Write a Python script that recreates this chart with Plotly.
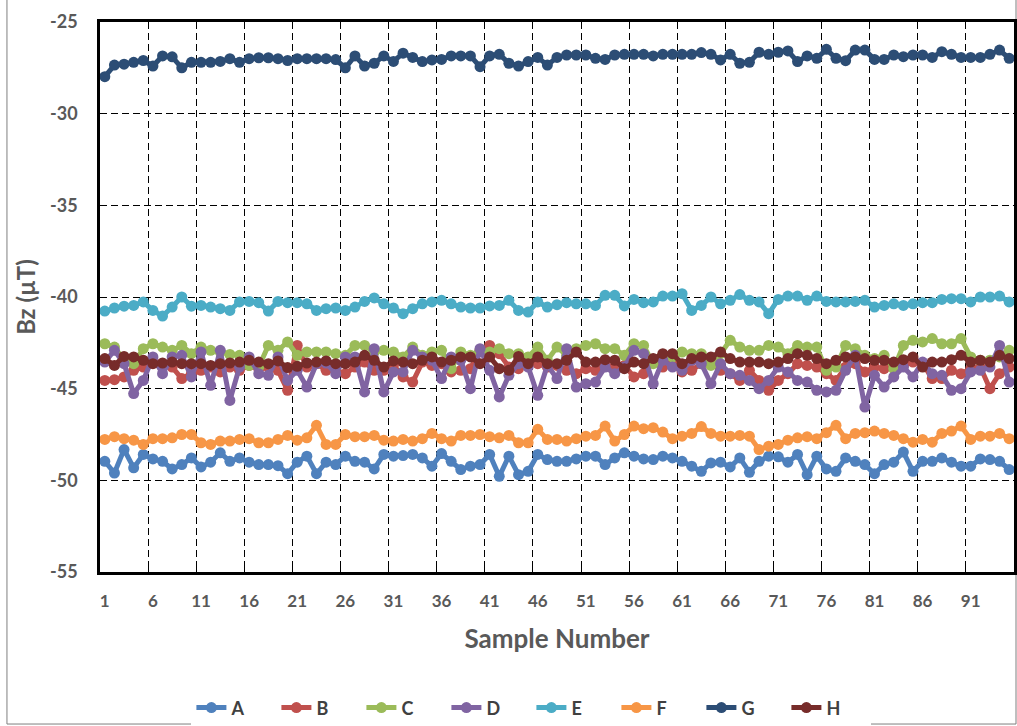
import plotly.graph_objects as go

samples = list(range(1, 96))
series_names = ["A", "B", "C", "D", "E", "F", "G", "H"]
colors = ["#4F81BD", "#C0504D", "#9BBB59", "#8064A2", "#4BACC6", "#F79646", "#2C4D75", "#772C2A"]

A = [-48.96, -49.6, -48.32, -49.32, -48.59, -48.83, -48.96, -49.38, -49.14, -48.78, -49.27, -49.01, -48.5, -48.96, -48.78, -49.01,
     -49.14, -49.14, -49.2, -49.64, -49.01, -48.68, -49.64, -49.01, -49.14, -48.68, -48.96, -49.01, -49.38, -48.59, -48.68, -48.65,
     -48.59, -48.78, -49.23, -48.54, -48.96, -49.41, -49.23, -49.14, -48.59, -49.78, -48.68, -49.69, -49.51, -48.59, -48.87, -48.96,
     -48.96, -48.83, -48.68, -48.68, -49.14, -48.78, -48.5, -48.68, -48.83, -48.87, -48.68, -48.78, -48.96, -49.23, -49.51, -49.05,
     -49.01, -49.27, -48.78, -49.56, -48.96, -48.68, -48.72, -49.01, -48.59, -49.69, -48.68, -49.38, -49.51, -48.78, -48.96, -49.14,
     -49.64, -49.14, -49.01, -48.46, -49.51, -48.96, -48.96, -48.78, -49.01, -49.23, -49.23, -48.83, -48.87, -48.96, -49.41]
B = [-44.55, -44.51, -44.36, -44.0, -43.82, -43.55, -43.73, -43.82, -44.45, -44.18, -44.0, -43.82, -44.09, -43.82, -44.0, -43.73,
     -43.91, -43.82, -44.0, -45.09, -42.64, -43.82, -43.64,
     -44.0, -44.0, -44.18, -43.82, -43.55, -44.0, -44.0, -43.73, -44.36, -44.64, -43.55, -43.73, -43.64, -44.09, -44.0, -43.91,
     -42.91, -42.64, -43.09, -43.82, -43.91, -43.55, -43.64, -43.82, -43.73,
     -44.0, -44.18, -43.91, -44.0, -43.73, -43.82, -43.73, -44.36, -44.18, -43.55, -43.82, -43.64, -44.09, -44.0, -43.64, -43.55,
     -44.0, -44.18, -44.55, -44.0, -44.55, -45.09, -44.55,
     -44.18, -43.64, -43.73, -43.82, -44.18, -44.55, -43.82, -43.64, -44.09, -43.82, -43.91, -43.64, -43.73, -43.55, -43.64, -44.45,
     -44.45, -44.0, -44.18, -43.91, -43.82, -45.0, -44.18, -43.82]
C = [-42.55, -42.73, -43.45, -43.64, -42.82, -42.55, -42.73, -42.91, -42.64, -43.09, -42.73, -42.91, -43.0, -43.13, -43.18, -43.73,
     -43.82, -42.64, -42.91, -42.45, -43.18, -43.0, -43.0,
     -43.0, -43.09, -43.18, -42.64, -42.64, -43.0, -42.91, -43.0, -43.27, -42.73, -43.18, -43.0, -42.91, -43.91, -43.0, -43.18,
     -42.91, -43.0, -42.82, -43.09, -43.09, -43.27, -42.73, -43.45,
     -42.73, -43.18, -42.82, -42.64, -42.55, -42.82, -42.82, -43.18, -42.55, -42.64, -43.64, -43.18, -43.27, -43.0, -43.09, -43.09,
     -43.73, -43.09, -42.36, -42.73, -42.91, -42.91, -42.64, -42.73,
     -43.09, -42.64, -42.73, -42.73, -44.0, -43.82, -42.64, -42.82, -43.18, -43.36, -43.18, -43.91, -42.64, -42.36, -42.45, -42.27,
     -42.55, -42.55, -42.27, -43.27, -43.45, -43.45, -43.27, -42.91]
D = [-43.55, -42.91, -43.64, -45.27, -44.55, -43.27, -44.18, -43.27, -43.18, -44.36, -43.0, -44.82, -42.91, -45.64, -43.82, -43.27,
     -44.18, -44.27, -43.27, -44.55, -44.0, -44.91, -43.64,
     -43.6, -44.18, -43.27, -43.27, -45.18, -42.82, -45.18, -44.09, -44.09, -42.91, -43.27, -43.45, -44.45, -43.27, -43.45, -45.0,
     -42.82, -44.0, -45.45, -44.27, -43.64, -43.82, -45.36, -43.73,
     -44.45, -42.82, -44.91, -44.73, -44.64, -43.82, -44.18, -43.82, -42.91, -43.09, -44.73, -43.45, -43.82, -44.0, -43.45, -43.64,
     -44.73, -43.64, -44.18, -44.27, -44.55, -45.0, -44.55, -43.82,
     -44.09, -44.55, -44.64, -45.09, -45.18, -45.09, -44.0, -43.18, -46.0, -44.27, -44.91, -44.36, -43.82, -44.36, -43.55, -44.18,
     -44.27, -45.09, -45.0, -44.09, -44.0, -43.82, -42.64, -44.64]
E = [-40.77, -40.6, -40.5, -40.46, -40.27, -40.73, -41.04, -40.55, -40.0, -40.5, -40.46, -40.55, -40.64, -40.73, -40.27, -40.24,
     -40.31, -40.77, -40.24, -40.31, -40.31, -40.37, -40.73, -40.64, -40.6, -40.73, -40.55, -40.24, -40.05, -40.37, -40.6, -40.91,
     -40.64, -40.37, -40.27, -40.18, -40.37, -40.55, -40.6, -40.6, -40.49, -40.46, -40.18, -40.73, -40.82, -40.27, -40.55, -40.42,
     -40.31, -40.37, -40.37, -40.46, -39.91, -39.91, -40.49, -40.13, -40.31, -40.27, -39.95, -39.95, -39.82, -40.73, -40.46, -40.0,
     -40.37, -40.18, -39.87, -40.18, -40.27, -40.91, -40.13, -39.95, -39.95, -40.18, -39.95, -40.24, -40.27, -40.27, -40.24, -40.18,
     -40.55, -40.46, -40.37, -40.46, -40.37, -40.31, -40.31, -40.13, -40.09, -40.09, -40.27, -40.0, -40.0, -39.95, -40.27]
F = [-47.77, -47.62, -47.73, -47.81, -48.04, -47.73, -47.73, -47.68, -47.5, -47.5, -47.95, -48.04, -47.86, -47.86, -47.77, -47.73,
     -47.95, -47.95, -47.77, -47.55, -47.81, -47.68, -47.0, -48.04, -48.04, -47.5, -47.62, -47.62, -47.55, -47.81, -47.86, -47.77,
     -47.86, -47.73, -47.44, -47.73, -47.86, -47.55, -47.55, -47.5, -47.62, -47.68, -47.55, -47.95, -47.95, -47.22, -47.77, -47.77,
     -47.86, -47.73, -47.59, -47.55, -47.04, -47.86, -47.5, -47.04, -47.18, -47.13, -47.37, -47.73, -47.59, -47.44, -47.07, -47.44,
     -47.59, -47.59, -47.55, -47.59, -48.32, -48.14, -48.04, -47.81, -47.68, -47.62, -47.73, -47.4, -47.0, -47.73, -47.44, -47.4,
     -47.31, -47.44, -47.55, -47.73, -47.92, -47.77, -47.92, -47.44, -47.31, -47.04, -47.77, -47.59, -47.59, -47.44, -47.73]
G = [-27.98, -27.35, -27.3, -27.2, -27.1, -27.4, -26.85, -26.9, -27.5, -27.2, -27.2, -27.2, -27.15, -27.0, -27.2, -27.0,
     -26.95, -26.95, -27.0, -27.1, -27.0, -27.0, -27.0, -27.0, -27.05, -27.5, -26.85, -27.4, -27.25, -26.85, -27.15, -26.7,
     -26.93, -27.16, -27.07, -27.04, -26.85, -26.85, -26.85, -27.44, -26.85, -26.76, -27.25, -27.4, -27.16, -26.93, -27.35, -26.93,
     -26.8, -26.8, -26.8, -26.98, -27.04, -26.8, -26.76, -26.76, -26.76, -26.85, -26.76, -26.76, -26.76, -26.76, -26.67, -26.76,
     -27.07, -26.76, -27.25, -27.2, -26.65, -26.76, -26.65, -26.58, -27.16, -26.85, -26.98, -26.49, -26.98, -27.11, -26.53, -26.53,
     -27.04, -27.04, -26.8, -26.89, -26.8, -26.8, -26.93, -26.62, -26.76, -26.93, -26.93, -26.93, -26.76, -26.53, -26.98]
H = [-43.36, -43.73, -43.24, -43.27, -43.45, -43.64, -43.6, -43.55, -43.64, -43.64, -43.64, -43.73, -43.64, -43.6, -43.55, -43.45,
     -43.55, -43.64, -43.49, -43.85, -43.78, -43.6, -43.55, -43.49,
     -43.64, -43.64, -43.55, -43.18, -43.45, -43.82, -43.49, -43.55, -43.64, -43.45, -43.27, -43.55, -43.45, -43.27, -43.27, -43.64,
     -43.27, -43.91, -44.0, -43.24, -43.64, -43.27, -43.64,
     -43.64, -43.45, -43.0, -43.55, -43.55, -43.42, -43.45, -43.91, -43.55, -43.64, -43.36, -43.09, -43.09, -43.64, -43.36, -43.27,
     -43.27, -43.0, -43.36, -43.55, -43.55, -43.55, -43.64, -43.55,
     -43.36, -43.09, -43.18, -43.36, -43.64, -43.45, -43.27, -43.27, -43.36, -43.45, -43.45, -43.55, -43.42, -43.27, -43.82, -43.55,
     -43.55, -43.42, -43.18, -43.55, -43.45, -43.55, -43.18, -43.36]

x_tick_vals = list(range(1, 96, 5))
x_tick_text = [str(v) for v in x_tick_vals]
x_grid_vals = [v + 0.5 for v in range(5, 95, 5)]
y_tick_vals = [-25, -30, -35, -40, -45, -50, -55]
y_tick_text = ["-25", "-30", "-35", "-40", "-45", "-50", "-55"]

all_series = [A, B, C, D, E, F, G, H]

FONT = "Lato"
GREY = "#595959"

fig = go.Figure()
for name, vals, col in zip(series_names, all_series, colors):
    fig.add_trace(go.Scatter(
        x=samples, y=vals, name=name, mode="lines+markers",
        line=dict(color=col, width=5),
        marker=dict(color=col, size=11, symbol="circle"),
    ))

fig.update_layout(
    width=1017, height=726,
    margin=dict(l=100, r=3, t=22, b=154, autoexpand=False),
    paper_bgcolor="white", plot_bgcolor="white",
    font=dict(family=FONT, color=GREY),
    showlegend=True,
    legend=dict(
        orientation="h", x=0.472, xanchor="center", y=-0.247, yanchor="middle",
        font=dict(family=FONT, size=18, color="#404040", weight="bold"),
        itemwidth=30, traceorder="normal",
        entrywidth=40, entrywidthmode="pixels",
    ),
    xaxis=dict(
        range=[0.5, 95.5], tickmode="array", tickvals=x_tick_vals, ticktext=x_tick_text,
        showgrid=False, zeroline=False, ticks="", automargin=False,
        showline=True, linecolor="black", linewidth=2.5, mirror=True,
        tickfont=dict(family=FONT, size=17, color=GREY, weight="bold"),
        ticklabelstandoff=12,
        minor=dict(tickmode="array", tickvals=x_grid_vals, showgrid=True, gridcolor="black",
                   griddash="7px,4px", gridwidth=1.2, ticks="inside", ticklen=5, tickcolor="black"),
        title=dict(text="Sample Number", standoff=20,
                   font=dict(family=FONT, size=26, color=GREY, weight="bold")),
    ),
    yaxis=dict(
        range=[-55, -25], tickmode="array", tickvals=y_tick_vals, ticktext=y_tick_text,
        showgrid=True, gridcolor="black", griddash="7px,4px", gridwidth=1.2,
        zeroline=False, ticks="", automargin=False,
        showline=True, linecolor="black", linewidth=2.5, mirror=True,
        tickfont=dict(family=FONT, size=18, color=GREY, weight="bold"),
        ticklabelstandoff=16,
        title=dict(text="Bz (µT)", standoff=8,
                   font=dict(family=FONT, size=24, color=GREY, weight="bold")),
    ),
)

fig.add_shape(type="rect", xref="paper", yref="paper",
              x0=-0.1018, x1=1.0022, y0=-0.2764, y1=1.2,
              line=dict(color="#7f7f7f", width=1), fillcolor="rgba(0,0,0,0)", layer="below")

fig.write_html("out.html")
